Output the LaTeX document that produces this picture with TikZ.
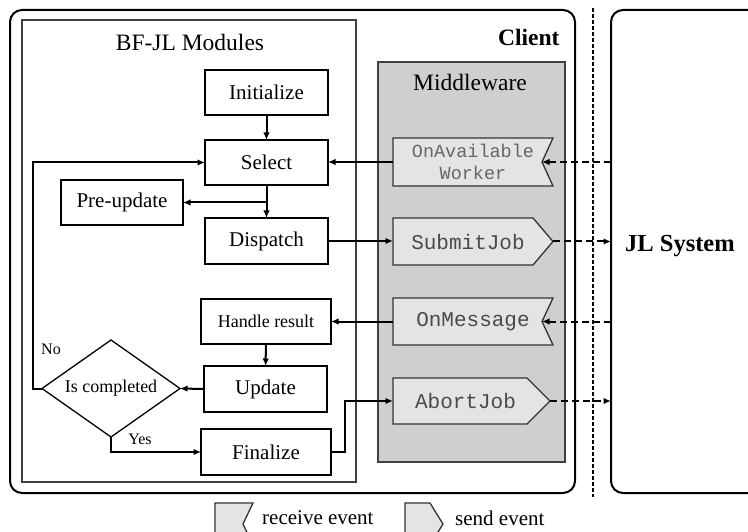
\documentclass[tikz,border=0pt]{standalone}
\usepackage{fontspec}
\setmainfont{Liberation Serif}
\setmonofont{Liberation Mono}
\usetikzlibrary{arrows.meta,shapes.geometric,calc}

\pgfdeclarelayer{back}
\pgfdeclarelayer{mid}
\pgfsetlayers{back,mid,main}

\definecolor{mwgray}{HTML}{CFCFCF}
\definecolor{evgray}{HTML}{E4E4E4}
\definecolor{evtext}{HTML}{4A4A4A}

% receive event: notch cut into the east side
\newcommand\evRecv[2]{%
  \begin{pgfonlayer}{mid}
    \draw[evshape] (#1.north west) -- (#1.north east) -- ([xshift=-#2]#1.east)
      -- (#1.south east) -- (#1.south west) -- cycle;
  \end{pgfonlayer}}
% send event: point on the east side
\newcommand\evSend[2]{%
  \begin{pgfonlayer}{mid}
    \draw[evshape] (#1.north west) -- ([xshift=-#2]#1.north east) -- (#1.east)
      -- ([xshift=-#2]#1.south east) -- (#1.south west) -- cycle;
  \end{pgfonlayer}}

\tikzset{
  fs/.style={font=\fontsize{#1}{#1}\selectfont},
  frame/.style={draw, outer sep=0pt, inner sep=0pt, anchor=north west},
  stepbox/.style={draw, line width=1.3pt, outer sep=0pt, inner sep=2pt,
    minimum width=123pt, minimum height=45pt, fs=21},
  evnode/.style={outer sep=0pt, inner sep=0pt, minimum width=160pt,
    minimum height=47pt, text=evtext, font=\ttfamily\fontsize{21}{22}\selectfont},
  evshape/.style={fill=evgray, draw=black!80, line width=1.3pt},
  arr/.style={line width=2pt, -{Latex[length=7.5pt,width=6.5pt]}},
  darr/.style={line width=2pt, dash pattern=on 7pt off 4pt,
    -{Latex[length=7.5pt,width=6.5pt]}},
  lbl/.style={fs=16},
}

\begin{document}
\begin{tikzpicture}[x=1pt,y=-1pt]
\useasboundingbox (0,0) rectangle (748,532);
\clip (0,0) rectangle (748,532);

% system frames
\node[frame, line width=2pt, rounded corners=12pt,
  minimum width=565pt, minimum height=483pt] (client) at (10,10) {};
\node[frame, line width=2pt, rounded corners=12pt,
  minimum width=160pt, minimum height=483pt] (jl) at (611,10) {};
\draw[line width=1.2pt, dash pattern=on 4pt off 2pt] (593,8) -- (593,497);

\node[frame, line width=1.3pt, draw=black!75,
  minimum width=334pt, minimum height=462pt] (bfjl) at (22,20) {};
\begin{pgfonlayer}{back}
\node[frame, line width=1.3pt, draw=black!75, fill=mwgray,
  minimum width=187pt, minimum height=400pt] (mw) at (378,62) {};
\end{pgfonlayer}

% titles
\node[fs=23.5] (tbf) at (190,42) {BF-JL Modules};
\node[font=\bfseries\fontsize{23.5}{24}\selectfont, anchor=east] (tcl) at (563,37) {Client};
\node[fs=23.5] (tmw) at (470,82) {Middleware};
\node[font=\bfseries\fontsize{24.5}{25}\selectfont] (tjl) at (680,246) {JL System};

% BF-JL module steps
\node[stepbox] (init) at (266.5,92.5) {Initialize};
\node[stepbox] (select) at (266.5,162.5) {Select};
\node[stepbox, minimum width=122pt] (pre) at (122,202.5) {Pre-update};
\node[stepbox, minimum height=46pt] (dispatch) at (266.5,241) {Dispatch};
\node[stepbox, minimum width=130pt, fs=18] (handle) at (266,321.5) {Handle result};
\node[stepbox, minimum height=46pt] (update) at (265.5,389) {Update};
\node[stepbox, minimum width=130pt, minimum height=46pt] (final) at (266,452) {Finalize};
\node[diamond, draw, line width=1.3pt, aspect=1.42, inner sep=0pt, outer sep=0pt,
  minimum width=138pt, minimum height=97pt, fs=18] (done) at (111,388.5) {Is completed};

\node[lbl] (lno) at (51,349) {No};
\node[lbl] (lyes) at (140,439) {Yes};

% middleware events
\node[evnode, minimum height=48pt, font=\ttfamily\fontsize{18.5}{22}\selectfont,
  text=black!60, align=center] (avail) at (473,162) {OnAvailable\\Worker};
\evRecv{avail}{11pt}
\node[evnode] (submit) at (473,241.5) {\hspace*{-10pt}SubmitJob};
\evSend{submit}{20pt}
\node[evnode] (onmsg) at (473,321.5) {OnMessage};
\evRecv{onmsg}{11pt}
\node[evnode, minimum width=157pt, minimum height=46pt] (abort) at (471.5,401) {\hspace*{-12pt}AbortJob};
\evSend{abort}{23pt}

% control flow
\draw[arr] (init) -- (select);
\draw[arr] (select) -- (dispatch);
\draw[arr] (select.south |- pre.east) -- (pre.east);
\draw[arr] (handle) -- (update);
\draw[arr] (update.west) -- (done.east);
\draw[arr] (done.west) -- ++(-9,0) |- (select.west);
\draw[arr] (done.south) |- (final.west);
\draw[arr] (final.east) -- ++(14,0) |- (abort.west);

% module <-> middleware
\draw[arr] (avail.west) -- (avail.west -| select.east);
\draw[arr] (dispatch.east) -- (dispatch.east -| submit.west);
\draw[arr] (onmsg.west) -- (onmsg.west -| handle.east);

% middleware <-> JL system
\draw[darr] (jl.west |- avail.east) -- ([xshift=-11pt]avail.east);
\draw[darr] (submit.east) -- (submit.east -| jl.west);
\draw[darr] (jl.west |- onmsg.east) -- ([xshift=-11pt]onmsg.east);
\draw[darr] (abort.east) -- (abort.east -| jl.west);

% legend
\node[evnode, minimum width=38pt, minimum height=42pt] (lrecv) at (234,524) {};
\evRecv{lrecv}{10pt}
\node[fs=21, anchor=west, inner sep=0pt] (trecv) at (262,518) {receive event};
\node[evnode, minimum width=38pt, minimum height=42pt] (lsend) at (424,524) {};
\evSend{lsend}{13pt}
\node[fs=21, anchor=west, inner sep=0pt] (tsend) at (455,518) {send event};
\end{tikzpicture}
\end{document}
